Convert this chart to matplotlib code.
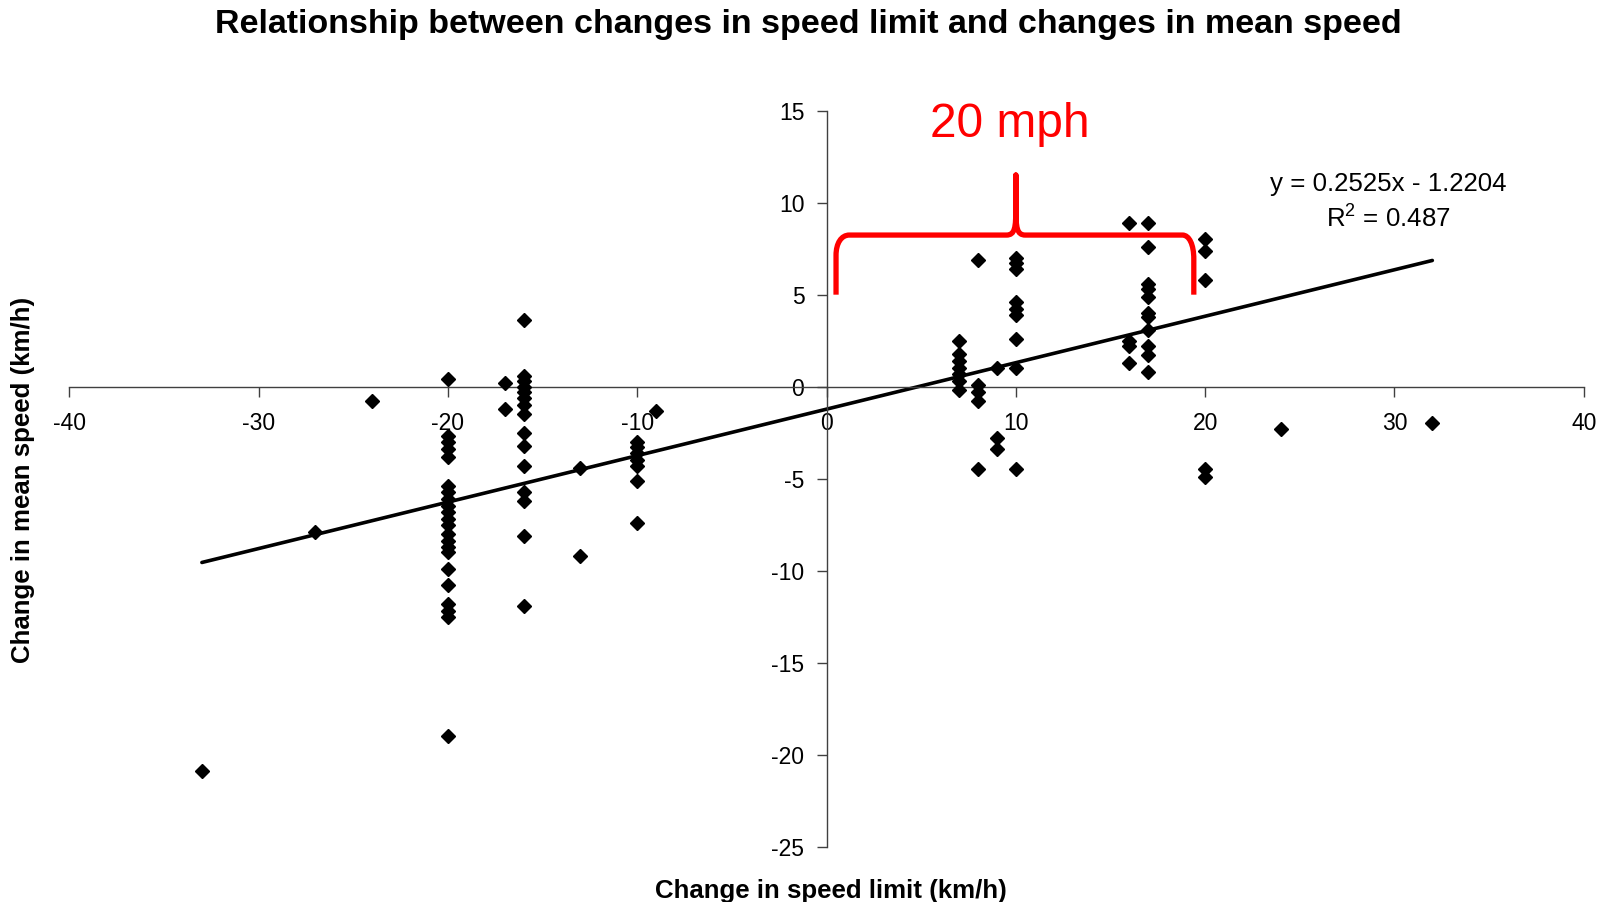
"""
scatter of speed limit change vs mean speed change, with trend line and 20 mph bracket
"""

import numpy as np
import matplotlib.pyplot as plt
from matplotlib.path import Path
from matplotlib.patches import PathPatch

plt.rcParams['font.family'] = ['Liberation Sans', 'DejaVu Sans']
plt.rcParams['mathtext.default'] = 'regular'
plt.rcParams['axes.unicode_minus'] = False  # excel uses plain hyphens

# data (km/h)
limit_change = [-33, -27, -24,
                -20, -20, -20, -20, -20, -20, -20, -20, -20, -20, -20, -20,
                -20, -20, -20, -20, -20, -20, -20, -20, -20, -20,
                -17, -17,
                -16, -16, -16, -16, -16, -16, -16, -16, -16, -16, -16, -16,
                -16, -16, -16,
                -13, -13,
                -10, -10, -10, -10, -10, -10, -10,
                -9,
                7, 7, 7, 7, 7, 7, 7,
                8, 8, 8, 8, 8,
                9, 9, 9,
                10, 10, 10, 10, 10, 10, 10, 10, 10,
                16, 16, 16, 16,
                17, 17, 17, 17, 17, 17, 17, 17, 17, 17, 17,
                20, 20, 20, 20, 20,
                24, 32]
speed_change = [-20.9, -7.9, -0.8,
                0.4, -2.7, -3.0, -3.4, -3.8, -5.4, -5.75, -6.1, -6.5, -6.8, -7.2, -7.5,
                -8.0, -8.4, -8.7, -9.0, -9.9, -10.8, -11.8, -12.2, -12.5, -19.0,
                0.2, -1.2,
                3.6, 0.6, 0.3, 0.0, -0.3, -0.6, -1.0, -1.5, -2.5, -3.2, -4.3, -5.7,
                -6.2, -8.1, -11.9,
                -4.4, -9.2,
                -3.0, -3.3, -3.6, -4.0, -4.3, -5.1, -7.4,
                -1.3,
                2.5, 1.8, 1.4, 1.0, 0.7, 0.3, -0.2,
                6.9, 0.1, -0.3, -0.8, -4.5,
                1.0, -2.8, -3.4,
                7.0, 6.7, 6.4, 4.6, 4.2, 3.9, 2.6, 1.0, -4.5,
                8.9, 2.5, 2.2, 1.3,
                8.9, 7.6, 5.6, 5.3, 4.9, 4.0, 3.8, 3.1, 2.2, 1.7, 0.8,
                8.0, 7.4, 5.8, -4.5, -4.9,
                -2.3, -2.0]

slope = 0.2525
intercept = -1.2204
r_squared = 0.487

x_ticks = list(range(-40, 41, 10))
y_ticks = list(range(-25, 16, 5))

fig = plt.figure(figsize=(16.1, 9.02), dpi=100)
ax = fig.add_axes([0.0431, 0.0613, 0.9406, 0.816])
ax.set_xlim(-40, 40)
ax.set_ylim(-25, 15)

# axes cross at zero like the excel chart
ax.spines['left'].set_position(('data', 0))
ax.spines['bottom'].set_position(('data', 0))
ax.spines['top'].set_visible(False)
ax.spines['right'].set_visible(False)
for s in ['left', 'bottom']:
    ax.spines[s].set_color('#404040')
    ax.spines[s].set_linewidth(1)

ax.set_xticks(x_ticks)
ax.set_yticks(y_ticks)
ax.tick_params(axis='x', direction='out', length=7, width=1, pad=11.5,
               labelsize=16.5, color='#404040', labelcolor='black')
ax.tick_params(axis='y', direction='out', length=7, width=1, pad=9,
               labelsize=16.5, color='#404040', labelcolor='black')

# trend line
x_line = np.array([min(limit_change), max(limit_change)])
ax.plot(x_line, slope * x_line + intercept, color='black', lw=2.6,
        solid_capstyle='round', zorder=2)

ax.plot(limit_change, speed_change, 'D', color='black', ms=7, ls='none', zorder=3)

ax.text(29.67, 10.65, f'y = {slope}x - {abs(intercept)}', ha='center', va='baseline',
        fontsize=18.6)
ax.text(29.67, 8.62, f'R$^2$ = {r_squared}', ha='center', va='baseline', fontsize=18.6)

# red brace over the 20 mph band
bx0, bx1, bmid = 0.5, 19.4, 10.0
by_end, by_bar, by_peak = 5.0, 8.24, 11.5
rx0, ry0 = 0.7, 1.1
rx1, ry1 = 0.6, 1.3
verts = [(bx0, by_end), (bx0, by_bar - ry0),
         (bx0, by_bar - ry0 * 0.4), (bx0 + rx0 * 0.4, by_bar), (bx0 + rx0, by_bar),
         (bmid - 0.5, by_bar),
         (bmid - 0.05, by_bar), (bmid, by_bar + 0.4), (bmid, by_bar + 1.5),
         (bmid, by_peak),
         (bmid, by_bar + 1.5),
         (bmid, by_bar + 0.4), (bmid + 0.05, by_bar), (bmid + 0.5, by_bar),
         (bx1 - rx1, by_bar),
         (bx1 - rx1 * 0.4, by_bar), (bx1, by_bar - ry1 * 0.4), (bx1, by_bar - ry1),
         (bx1, by_end)]
codes = [Path.MOVETO, Path.LINETO,
         Path.CURVE4, Path.CURVE4, Path.CURVE4,
         Path.LINETO,
         Path.CURVE4, Path.CURVE4, Path.CURVE4,
         Path.LINETO,
         Path.LINETO,
         Path.CURVE4, Path.CURVE4, Path.CURVE4,
         Path.LINETO,
         Path.CURVE4, Path.CURVE4, Path.CURVE4,
         Path.LINETO]
ax.add_patch(PathPatch(Path(verts, codes), facecolor='none', edgecolor='red', lw=3.8,
                       capstyle='butt', joinstyle='round', zorder=4))
ax.text(9.7, 13.55, '20 mph', color='red', fontsize=34.5, ha='center', va='baseline')

fig.text(808 / 1610, 1 - 24 / 902,
         'Relationship between changes in speed limit and changes in mean speed',
         ha='center', va='center', fontsize=24.5, fontweight='bold')
fig.text(831 / 1610, 1 - 891 / 902, 'Change in speed limit (km/h)',
         ha='center', va='center', fontsize=18.6, fontweight='bold')
fig.text(23 / 1610, 1 - 480 / 902, 'Change in mean speed (km/h)',
         ha='center', va='center', fontsize=18.6, fontweight='bold', rotation=90)

fig.savefig('out.png', dpi=100)
